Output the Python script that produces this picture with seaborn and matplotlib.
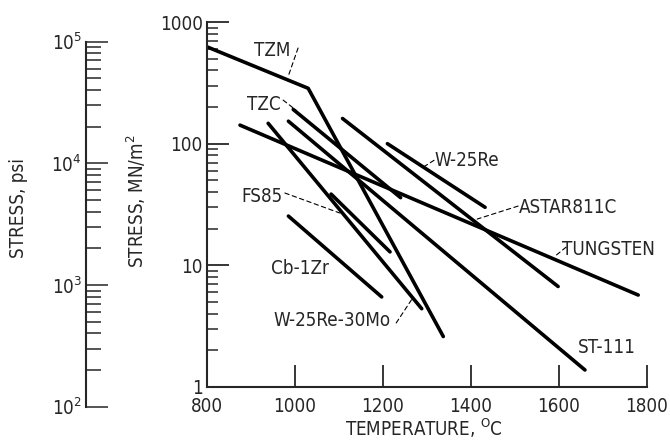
import numpy as np
import pandas as pd
import matplotlib
matplotlib.use('Agg')
import matplotlib.pyplot as plt
import seaborn as sns
from matplotlib.ticker import LogLocator, FixedLocator, FuncFormatter, NullFormatter

# --- DATA ---
alloys = ['TZM', 'TZC', 'W-25Re', 'ASTAR811C', 'TUNGSTEN',
          'ST-111', 'FS85', 'Cb-1Zr', 'W-25Re-30Mo']
temp_c = [
    [800, 1030, 1337],
    [996, 1240],
    [1210, 1432],
    [1108, 1598],
    [875, 1780],
    [985, 1659],
    [1082, 1216],
    [985, 1197],
    [939, 1288],
]
stress_mn = [
    [625, 285, 2.6],
    [191, 36],
    [100, 30],
    [161, 6.7],
    [142, 5.7],
    [153, 1.38],
    [38.5, 12.9],
    [25.4, 5.5],
    [147, 4.4],
]
x_ticks = [800, 1000, 1200, 1400, 1600, 1800]
y_ticks = [1, 10, 100, 1000]
psi_ticks = [1e2, 1e3, 1e4, 1e5]
PSI_TO_MN = 6.894757e-3

# label text -> (text position, leader start, leader end) in data units
labels = {
    'TZM': ((948, 588), (1007, 611), (984, 353)),
    'TZC': ((930, 211), (973, 228), (1002, 189)),
    'W-25Re': ((1391, 73), (1316, 73), (1291, 64)),
    'ASTAR811C': ((1620, 30), (1507, 30.7), (1414, 24)),
    'TUNGSTEN': ((1712, 13.4), (1616, 14.1), (1591, 11.9)),
    'FS85': ((925, 37), (977, 39.3), (1102, 26.9)),
    'Cb-1Zr': ((1011, 9.5), None, None),
    'W-25Re-30Mo': ((1084, 3.49), (1230, 3.36), (1266, 5.29)),
    'ST-111': ((1709, 2.13), None, None),
}

rows = []
for name, ts, ss in zip(alloys, temp_c, stress_mn):
    for t, s in zip(ts, ss):
        rows.append({'alloy': name, 'temp': t, 'stress': s})
df = pd.DataFrame(rows)

# --- STYLE ---
sns.set_style('ticks')
plt.rcParams['font.family'] = ['DejaVu Sans']
plt.rcParams['font.stretch'] = 'condensed'
plt.rcParams['mathtext.fontset'] = 'custom'
plt.rcParams['mathtext.rm'] = 'DejaVu Sans:stretch=condensed'
plt.rcParams['mathtext.it'] = 'DejaVu Sans:stretch=condensed'
plt.rcParams['mathtext.bf'] = 'DejaVu Sans:stretch=condensed'
FS = 13.5

fig = plt.figure(figsize=(6.7, 4.42), dpi=100)
ax_l, ax_b, ax_w, ax_h = 207 / 670, 55 / 442, 440 / 670, 365 / 442
ax = fig.add_axes([ax_l, ax_b, ax_w, ax_h])

sns.lineplot(data=df, x='temp', y='stress', units='alloy', estimator=None,
             sort=False, color='black', lw=2.6, ax=ax, legend=False)

ax.set_yscale('log')
ax.set_xlim(800, 1800)
ax.set_ylim(1, 1000)
ax.xaxis.set_major_locator(FixedLocator(x_ticks))
ax.yaxis.set_major_locator(FixedLocator(y_ticks))
ax.yaxis.set_minor_locator(LogLocator(base=10, subs=np.arange(2, 10)))
ax.yaxis.set_major_formatter(FuncFormatter(lambda v, _: f'{v:g}'))
ax.yaxis.set_minor_formatter(NullFormatter())
ax.tick_params(axis='both', which='major', direction='in', length=16,
               width=1.1, labelsize=FS, color='black')
ax.tick_params(axis='y', which='major', pad=3)
ax.tick_params(axis='x', which='major', pad=7)
ax.tick_params(axis='y', which='minor', direction='in', length=8, width=1.1)
sns.despine(ax=ax)
for sp in ['left', 'bottom']:
    ax.spines[sp].set_linewidth(1.5)
ax.set_xlabel('TEMPERATURE, $^{\\mathrm{O}}$C', fontsize=FS)
ax.set_ylabel('STRESS, MN/m$^2$', fontsize=FS)
ax.xaxis.set_label_coords(0.492, -0.08)
ax.yaxis.set_label_coords(-0.135, 0.51)

for name, (pos, start, end) in labels.items():
    ax.text(pos[0], pos[1], name, fontsize=FS, ha='center', va='center')
    if start is not None:
        ax.annotate('', xy=end, xytext=start,
                    arrowprops=dict(arrowstyle='-', ls=(0, (4, 3)), lw=0.8,
                                    color='black', shrinkA=0, shrinkB=0))

# --- psi scale, same log spacing as the MN/m^2 axis ---
decade_h = ax_h / 3
psi_bottom = ax_b + np.log10(psi_ticks[0] * PSI_TO_MN) * decade_h
ax2 = fig.add_axes([86 / 670, psi_bottom, 0.05, decade_h * 3])
ax2.set_yscale('log')
ax2.set_ylim(psi_ticks[0], psi_ticks[-1])
ax2.yaxis.set_major_locator(FixedLocator(psi_ticks))
ax2.yaxis.set_minor_locator(LogLocator(base=10, subs=np.arange(2, 10)))
ax2.yaxis.set_minor_formatter(NullFormatter())
ax2.set_xticks([])
ax2.patch.set_visible(False)
for sp in ['top', 'right', 'bottom']:
    ax2.spines[sp].set_visible(False)
ax2.spines['left'].set_linewidth(1.5)
ax2.tick_params(axis='y', which='major', direction='in', length=16,
                width=1.1, labelsize=FS, pad=3)
ax2.tick_params(axis='y', which='minor', direction='in', length=11, width=1.1)
ax2.set_ylabel('STRESS, psi', fontsize=FS)
ax2.yaxis.set_label_coords((28 - 86) / (0.05 * 670), (407 - 208) / 365)

fig.savefig('out.png', dpi=100)
